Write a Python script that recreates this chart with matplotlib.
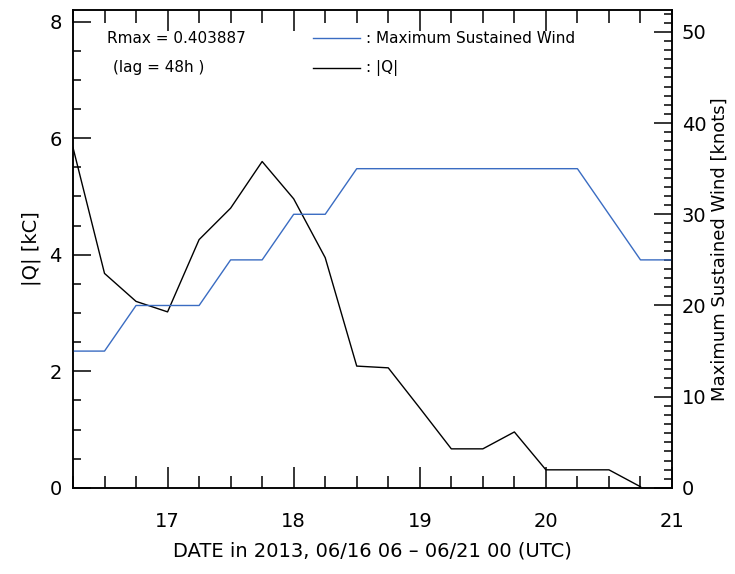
import matplotlib
matplotlib.use("Agg")
import matplotlib.pyplot as plt
from matplotlib.ticker import MultipleLocator

plt.rcParams["font.family"] = ["DejaVu Sans"]

# time in day-of-month (UTC), 6-hourly from 06/16 06 to 06/21 00
days = [16.25, 16.5, 16.75, 17.0, 17.25, 17.5, 17.75, 18.0, 18.25, 18.5,
        18.75, 19.0, 19.25, 19.5, 19.75, 20.0, 20.25, 20.5, 20.75, 21.0]
iqi = [5.84, 3.68, 3.20, 3.02, 4.26, 4.80, 5.60, 4.96, 3.95, 2.09,
       2.06, 1.37, 0.67, 0.67, 0.96, 0.31, 0.31, 0.31, 0.02]
wind = [15, 15, 20, 20, 20, 25, 25, 30, 30, 35,
        35, 35, 35, 35, 35, 35, 35, 30, 25, 25]
x_ticks = [17, 18, 19, 20, 21]

rmax_text = "Rmax = 0.403887"
lag_text = "(lag = 48h )"
blue = "#3a6cc2"

fig = plt.figure(figsize=(7.35, 5.74), dpi=100)
ax = fig.add_axes([0.0993, 0.150, 0.815, 0.8326])
ax2 = ax.twinx()

ax.plot(days[:len(iqi)], iqi, color="black", lw=1.0)
ax2.plot(days, wind, color=blue, lw=1.0)

ax.set_xlim(16.25, 21.0)
ax.set_ylim(0, 8.2)
ax2.set_ylim(0, 52.4)

ax.set_xticks(x_ticks)
ax.xaxis.set_minor_locator(MultipleLocator(0.25))
ax.yaxis.set_major_locator(MultipleLocator(2))
ax.yaxis.set_minor_locator(MultipleLocator(0.5))
ax2.yaxis.set_major_locator(MultipleLocator(10))
ax2.yaxis.set_minor_locator(MultipleLocator(1))

ax.tick_params(axis="x", which="both", direction="in", top=True, bottom=True,
               labelsize=14, pad=17, width=1.1)
ax.tick_params(axis="x", which="major", length=15)
ax.tick_params(axis="x", which="minor", length=9)
ax.tick_params(axis="y", which="both", direction="in", left=True, right=False,
               labelsize=14, pad=8, width=1.1)
ax.tick_params(axis="y", which="major", length=13)
ax.tick_params(axis="y", which="minor", length=6)
ax2.tick_params(axis="y", which="both", direction="in", right=True, left=False,
                labelsize=14, pad=7, width=1.1)
ax2.tick_params(axis="y", which="major", length=13)
ax2.tick_params(axis="y", which="minor", length=6)

for a in (ax, ax2):
    for s in a.spines.values():
        s.set_linewidth(1.1)

ax.set_xlabel("DATE in 2013, 06/16 06 \u2013 06/21 00 (UTC)", fontsize=14, labelpad=8)
ax.set_ylabel("|Q| [kC]", fontsize=14, labelpad=6)
ax2.set_ylabel("Maximum Sustained Wind [knots]", fontsize=13, labelpad=3)

# annotation / legend block
ax.text(0.057, 0.941, rmax_text, transform=ax.transAxes, fontsize=11, va="center")
ax.text(0.067, 0.879, lag_text, transform=ax.transAxes, fontsize=11, va="center")
ax.plot([0.40, 0.479], [0.941, 0.941], transform=ax.transAxes, color=blue, lw=1.0)
ax.plot([0.40, 0.479], [0.879, 0.879], transform=ax.transAxes, color="black", lw=1.0)
ax.text(0.489, 0.941, ": Maximum Sustained Wind", transform=ax.transAxes,
        fontsize=11, va="center")
ax.text(0.489, 0.879, ": |Q|", transform=ax.transAxes, fontsize=11, va="center")

fig.savefig("out.png", dpi=100)
